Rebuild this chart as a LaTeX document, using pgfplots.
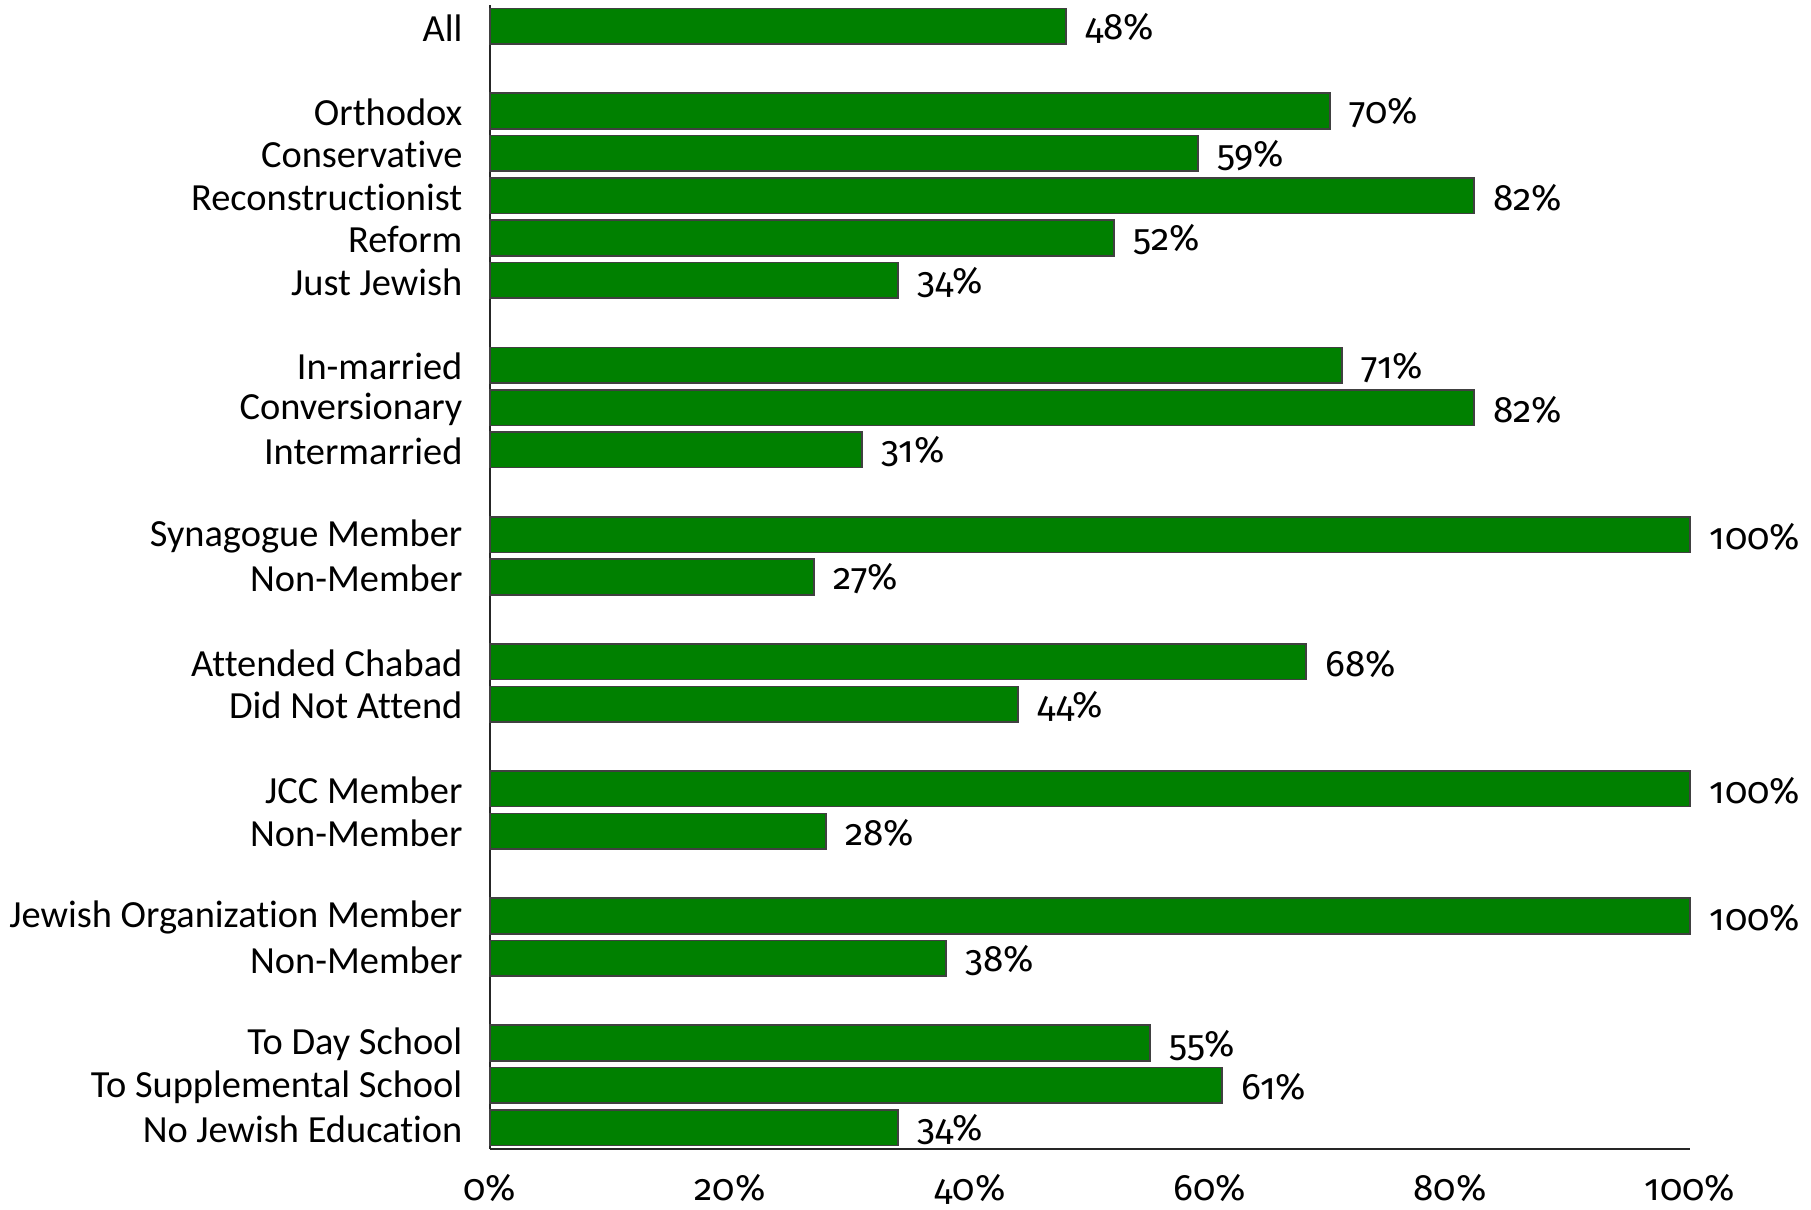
\documentclass[border=0pt]{standalone}
\usepackage{fontspec}
\setmainfont{Carlito}[Ligatures=NoCommon]
\newfontfamily\numfont{Fira Sans}[Numbers=OldStyle]
\usepackage{pgfplots}
\pgfplotsset{compat=1.18}
\definecolor{barg}{RGB}{0,128,0}
\newcommand{\lblfont}{\fontsize{9.6}{11.5}\selectfont}
\newcommand{\nfont}{\numfont\fontsize{9.2}{11}\selectfont}
\begin{document}
\lblfont
\begin{tikzpicture}
\useasboundingbox (-122.5pt,-15.25pt) rectangle (330.25pt,287.25pt);
\begin{axis}[
  at={(0,0)}, anchor=south west,
  scale only axis, width=300pt, height=286pt,
  xbar, y dir=reverse,
  xmin=0, xmax=100, ymin=-0.5, ymax=26.5,
  bar width=0.84,
  axis x line*=bottom, axis y line*=left,
  axis line style={black!85, line width=0.6pt, -},
  xtick={0,20,40,60,80,100},
  xticklabel={\pgfmathprintnumber{\tick}\%},
  /pgf/number format/assume math mode=true,
  major tick length=0pt,
  xticklabel style={font=\nfont, yshift=-3pt},
  ytick={0,2,3,4,5,6,8,9,10,12,13,15,16,18,19,21,22,24,25,26},
  yticklabels={All,Orthodox,Conservative,Reconstructionist,Reform,Just Jewish,In-married,Conversionary,Intermarried,Synagogue Member,Non-Member,Attended Chabad,Did Not Attend,JCC Member,Non-Member,Jewish Organization Member,Non-Member,To Day School,To Supplemental School,No Jewish Education},
  yticklabel style={font=\lblfont, xshift=-3.5pt, yshift=-0.4pt},
  nodes near coords={\pgfmathprintnumber{\pgfplotspointmeta}\%},
  nodes near coords style={font=\nfont, anchor=west, xshift=1.5pt, yshift=-0.5pt, /pgf/number format/assume math mode=true},
  clip=false,
]
\addplot[fill=barg, draw=black!75, line width=0.4pt] coordinates {
(48,0) (70,2) (59,3) (82,4) (52,5) (34,6)
(71,8) (82,9) (31,10)
(100,12) (27,13)
(68,15) (44,16)
(100,18) (28,19)
(100,21) (38,22)
(55,24) (61,25) (34,26)
};
\end{axis}
\end{tikzpicture}
\end{document}
